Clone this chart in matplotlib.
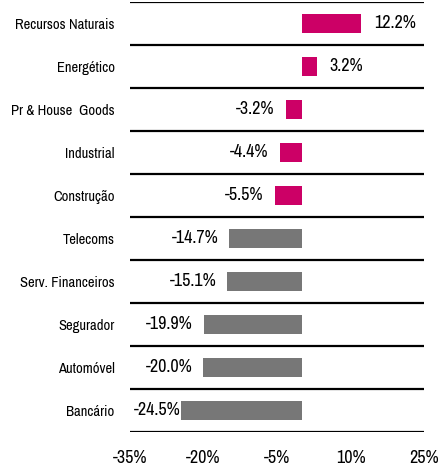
import matplotlib.pyplot as plt

plt.rcParams["font.family"] = ["Archivo Narrow", "DejaVu Sans"]

sectors = [
    "Recursos Naturais",
    "Energético",
    "Pr & House  Goods",
    "Industrial",
    "Construção",
    "Telecoms",
    "Serv. Financeiros",
    "Segurador",
    "Automóvel",
    "Bancário",
    ]
returns = [12.2, 3.2, -3.2, -4.4, -5.5, -14.7, -15.1, -19.9, -20.0, -24.5]
highlighted = [True, True, True, True, True, False, False, False, False, False]
x_ticks = [-35, -20, -5, 10, 25]

PINK = "#CC0066"
GREY = "#777777"

def main():

    fig = plt.figure(figsize = (4.39, 4.66), dpi = 100)
    ax = fig.add_axes([0.296, 0.073, 0.67, 0.923])

    positions = list(range(len(sectors)))
    colors = [PINK if h else GREY for h in highlighted]
    ax.barh(positions, returns, height = 0.45, color = colors)

    for y, v in zip(positions, returns):
        if v >= 0:
            ax.annotate(f"{v:.1f}%", (v, y), xytext = (9, 0), textcoords = "offset points",
                        ha = "left", va = "center", fontsize = 13)
        else:
            pad = 0.5 if v < -22 else 8
            ax.annotate(f"{v:.1f}%", (v, y), xytext = (-pad, 0), textcoords = "offset points",
                        ha = "right", va = "center", fontsize = 13)

    for b in range(len(sectors) + 1):
        ax.axhline(b - 0.5, color = "black", linewidth = 1.6)

    ax.set_xlim(-35, 25)
    ax.set_ylim(len(sectors) - 0.5, -0.5)
    ax.set_yticks(positions)
    ax.set_yticklabels(sectors, fontsize = 10.5)
    ax.set_xticks(x_ticks)
    ax.set_xticklabels([f"{t}%" for t in x_ticks], fontsize = 13)
    ax.tick_params(axis = "y", length = 0, pad = 11)
    ax.tick_params(axis = "x", length = 0, pad = 13)
    for s in ax.spines.values():
        s.set_visible(False)

    fig.savefig("out.png", dpi = 100)
    plt.close()

if __name__ == "__main__":
    main()
